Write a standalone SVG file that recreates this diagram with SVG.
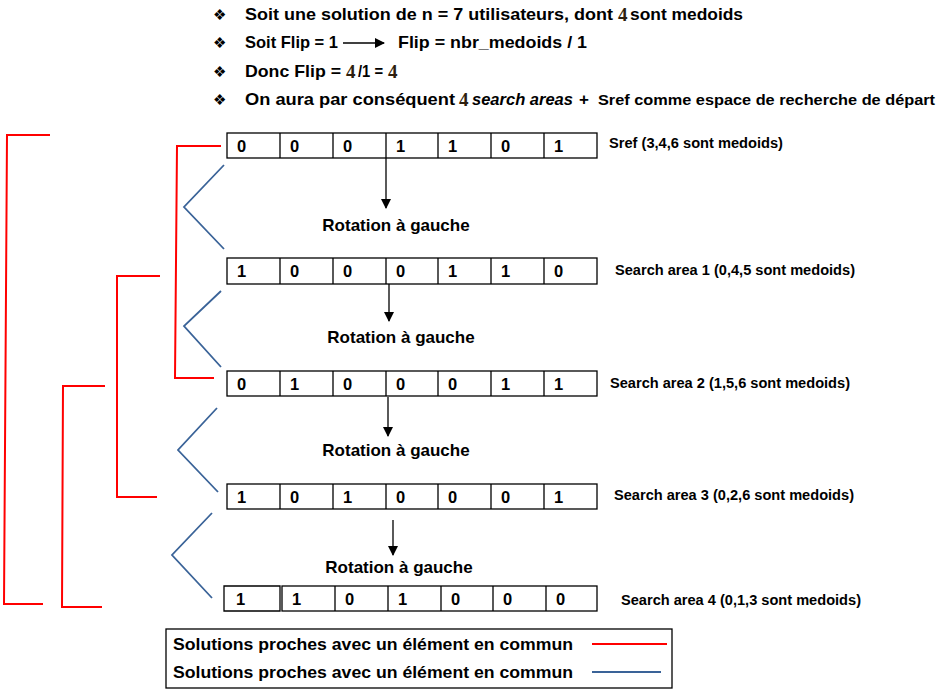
<svg xmlns="http://www.w3.org/2000/svg" width="939" height="696" viewBox="0 0 939 696">
<defs>
<style>
text{font-family:"Liberation Sans","DejaVu Sans",sans-serif;font-weight:bold;fill:#000}
.hdr{font-size:17px}
.num{font-family:"Liberation Serif","DejaVu Serif",serif;font-weight:bold;font-size:19px;fill:#2e1f0e}
.bul{font-family:"DejaVu Sans",sans-serif;font-size:15px;font-weight:normal}
.cell{fill:#fff;stroke:#000;stroke-width:1.3}
.dig{font-size:16.5px}
.lbl{font-size:14.5px}
.rot{font-size:17px}
.red{fill:none;stroke:#ff0000;stroke-width:2}
.blue{fill:none;stroke:#3a6398;stroke-width:1.8}
.arr{stroke:#000;stroke-width:1.3;marker-end:url(#ah)}
.leg{font-size:17px}
</style>
<marker id="ah" markerWidth="10" markerHeight="10" refX="9" refY="5" orient="auto" markerUnits="userSpaceOnUse">
<path d="M0,0 L10,5 L0,10 Z" fill="#000"/>
</marker>
</defs>
<rect width="939" height="696" fill="#fff"/>

<g id="header">
<text class="bul" x="213" y="20">❖</text>
<text class="hdr" x="245" y="20" textLength="368" lengthAdjust="spacingAndGlyphs">Soit une solution de n = 7 utilisateurs, dont</text>
<text class="num" x="618" y="21">4</text>
<text class="hdr" x="630" y="20" textLength="113" lengthAdjust="spacingAndGlyphs">sont medoids</text>

<text class="bul" x="213" y="48">❖</text>
<text class="hdr" x="245" y="48" textLength="93" lengthAdjust="spacingAndGlyphs">Soit Flip = 1</text>
<line x1="343" y1="43" x2="384" y2="43" stroke="#000" stroke-width="1.3" marker-end="url(#ah)"/>
<text class="hdr" x="398" y="48" textLength="189" lengthAdjust="spacingAndGlyphs">Flip = nbr_medoids / 1</text>

<text class="bul" x="213" y="77">❖</text>
<text class="hdr" x="245" y="77" textLength="96" lengthAdjust="spacingAndGlyphs">Donc Flip =</text>
<text class="num" x="346" y="78">4</text>
<text class="hdr" x="358" y="77" textLength="25" lengthAdjust="spacingAndGlyphs">/1 =</text>
<text class="num" x="388" y="78">4</text>

<text class="bul" x="213" y="105">❖</text>
<text class="hdr" x="245" y="105" textLength="210" lengthAdjust="spacingAndGlyphs">On aura par conséquent</text>
<text class="num" x="459" y="106">4</text>
<text class="hdr" x="472" y="105" font-style="italic" textLength="101" lengthAdjust="spacingAndGlyphs">search areas</text>
<text class="hdr" x="579" y="105">+</text>
<text x="598" y="105" font-size="15" textLength="337" lengthAdjust="spacingAndGlyphs">Sref comme espace de recherche de départ</text>
</g>

<g id="sref">
<rect class="cell" x="227" y="133" width="370" height="25"/>
<path d="M280,133V158M333,133V158M386,133V158M438,133V158M491,133V158M544,133V158" stroke="#000" stroke-width="1.3"/>
<text class="dig" x="237" y="152">0</text><text class="dig" x="290" y="152">0</text><text class="dig" x="343" y="152">0</text><text class="dig" x="396" y="152">1</text><text class="dig" x="448" y="152">1</text><text class="dig" x="501" y="152">0</text><text class="dig" x="554" y="152">1</text>
<text class="lbl" x="609" y="148" textLength="174" lengthAdjust="spacingAndGlyphs">Sref (3,4,6 sont medoids)</text>
</g>

<g id="area1">
<rect class="cell" x="227" y="258" width="370" height="26"/>
<path d="M280,258V284M333,258V284M386,258V284M438,258V284M491,258V284M544,258V284" stroke="#000" stroke-width="1.3"/>
<text class="dig" x="237" y="277">1</text><text class="dig" x="290" y="277">0</text><text class="dig" x="343" y="277">0</text><text class="dig" x="396" y="277">0</text><text class="dig" x="448" y="277">1</text><text class="dig" x="501" y="277">1</text><text class="dig" x="554" y="277">0</text>
<text class="lbl" x="615" y="275" textLength="240" lengthAdjust="spacingAndGlyphs">Search area 1 (0,4,5 sont medoids)</text>
</g>

<g id="area2">
<rect class="cell" x="227" y="371" width="370" height="25"/>
<path d="M280,371V396M333,371V396M386,371V396M438,371V396M491,371V396M544,371V396" stroke="#000" stroke-width="1.3"/>
<text class="dig" x="237" y="390">0</text><text class="dig" x="290" y="390">1</text><text class="dig" x="343" y="390">0</text><text class="dig" x="396" y="390">0</text><text class="dig" x="448" y="390">0</text><text class="dig" x="501" y="390">1</text><text class="dig" x="554" y="390">1</text>
<text class="lbl" x="610" y="388" textLength="240" lengthAdjust="spacingAndGlyphs">Search area 2 (1,5,6 sont medoids)</text>
</g>

<g id="area3">
<rect class="cell" x="227" y="484" width="370" height="25"/>
<path d="M280,484V509M333,484V509M386,484V509M438,484V509M491,484V509M544,484V509" stroke="#000" stroke-width="1.3"/>
<text class="dig" x="237" y="503">1</text><text class="dig" x="290" y="503">0</text><text class="dig" x="343" y="503">1</text><text class="dig" x="396" y="503">0</text><text class="dig" x="448" y="503">0</text><text class="dig" x="501" y="503">0</text><text class="dig" x="554" y="503">1</text>
<text class="lbl" x="614" y="500" textLength="240" lengthAdjust="spacingAndGlyphs">Search area 3 (0,2,6 sont medoids)</text>
</g>

<g id="area4">
<path d="M280,586H224V611H280Z" fill="#fff" stroke="#000" stroke-width="1.3"/>
<rect class="cell" x="282" y="586" width="315" height="25"/>
<path d="M335,586V611M388,586V611M441,586V611M493,586V611M546,586V611" stroke="#000" stroke-width="1.3"/>
<text class="dig" x="236" y="605">1</text><text class="dig" x="292" y="605">1</text><text class="dig" x="345" y="605">0</text><text class="dig" x="398" y="605">1</text><text class="dig" x="451" y="605">0</text><text class="dig" x="503" y="605">0</text><text class="dig" x="556" y="605">0</text>
<text class="lbl" x="621" y="605" textLength="240" lengthAdjust="spacingAndGlyphs">Search area 4 (0,1,3 sont medoids)</text>
</g>

<g id="rotations">
<text class="rot" x="396" y="231" text-anchor="middle">Rotation à gauche</text>
<text class="rot" x="401" y="343" text-anchor="middle">Rotation à gauche</text>
<text class="rot" x="396" y="456" text-anchor="middle">Rotation à gauche</text>
<text class="rot" x="399" y="573" text-anchor="middle">Rotation à gauche</text>
</g>

<g id="connectors">
<line class="arr" x1="386" y1="158" x2="386" y2="208"/>
<line class="arr" x1="389" y1="284" x2="389" y2="321"/>
<line class="arr" x1="388" y1="397" x2="388" y2="436"/>
<line class="arr" x1="393" y1="520" x2="393" y2="555"/>

<polyline class="red" points="221,146 177,146 175,378 214,378"/>
<polyline class="red" points="160,276 117,276 117,497 157,497"/>
<polyline class="red" points="105,386 63,386 62,607 102,607"/>
<polyline class="red" points="50,135 7,135 4,604 43,604"/>

<polyline class="blue" points="224,165 184,207 224,249"/>
<polyline class="blue" points="221,291 184,326 221,367"/>
<polyline class="blue" points="217,408 178,450 218,492"/>
<polyline class="blue" points="212,513 172,555 212,598"/>
</g>

<g id="legend">
<rect x="166" y="629" width="506" height="59" fill="#fff" stroke="#000" stroke-width="1.3"/>
<text class="leg" x="173" y="650" textLength="400" lengthAdjust="spacingAndGlyphs">Solutions proches avec un élément en commun</text>
<text class="leg" x="173" y="678" textLength="400" lengthAdjust="spacingAndGlyphs">Solutions proches avec un élément en commun</text>
<line x1="592" y1="644" x2="667" y2="644" stroke="#ff0000" stroke-width="2"/>
<line x1="592" y1="672" x2="661" y2="672" stroke="#3a6398" stroke-width="1.8"/>
</g>
</svg>
